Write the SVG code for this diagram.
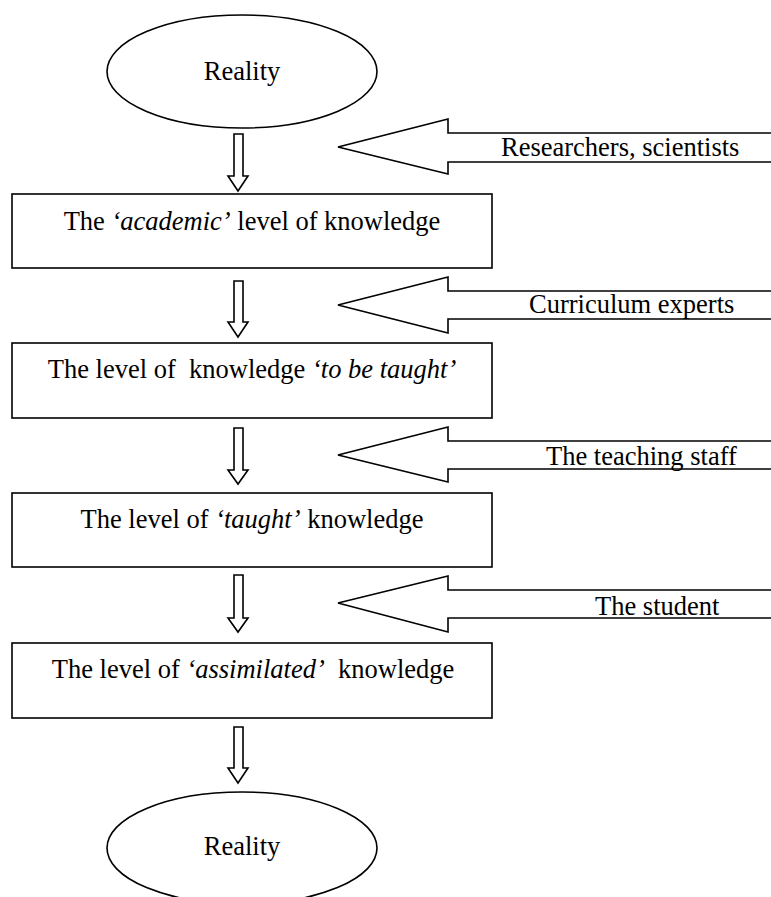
<svg xmlns="http://www.w3.org/2000/svg" width="771" height="897" viewBox="0 0 771 897">
<style>
.s{fill:#fff;stroke:#000;stroke-width:1.6;stroke-linejoin:miter}
text{font-family:"Liberation Serif","Times New Roman",serif;font-size:26.5px;fill:#000}
.c{text-anchor:middle}
.i{font-style:italic}
</style>
<rect width="771" height="897" fill="#fff"/>
<g id="connectors">
<polygon class="s" points="234,134 243,134 243,176 248,176 238,191 228,176 234,176"/>
<polygon class="s" points="234,281 243,281 243,322 248,322 238,337 228,322 234,322"/>
<polygon class="s" points="234,428 243,428 243,470 248,470 238,484 228,470 234,470"/>
<polygon class="s" points="234,575 243,575 243,618 248,618 238,632 228,618 234,618"/>
<polygon class="s" points="234,727 243,727 243,768 248,768 238,783 228,768 234,768"/>
</g>
<g id="agent-researchers">
<polygon class="s" points="338,147 448,119 448,133 776,133 776,162 448,162 448,174"/>
<text x="501" y="156">Researchers, scientists</text>
</g>
<g id="agent-curriculum">
<polygon class="s" points="338,305 448,277 448,291 776,291 776,319 448,319 448,333"/>
<text x="529" y="313">Curriculum experts</text>
</g>
<g id="agent-teaching">
<polygon class="s" points="338,455 448,427 448,441 776,441 776,469 448,469 448,482"/>
<text x="546" y="465">The teaching staff</text>
</g>
<g id="agent-student">
<polygon class="s" points="338,603 448,576 448,590 776,590 776,618 448,618 448,632"/>
<text x="595" y="615">The student</text>
</g>
<g id="reality-top">
<ellipse class="s" cx="242" cy="71.5" rx="135" ry="56.5"/>
<text class="c" x="242" y="80">Reality</text>
</g>
<g id="level-academic">
<rect class="s" x="12" y="194" width="480" height="74"/>
<text class="c" x="252" y="230" xml:space="preserve">The <tspan class="i">‘academic’</tspan> level of knowledge</text>
</g>
<g id="level-to-be-taught">
<rect class="s" x="12" y="343" width="480" height="75"/>
<text class="c" x="252" y="378" xml:space="preserve">The level of  knowledge <tspan class="i">‘to be taught’</tspan></text>
</g>
<g id="level-taught">
<rect class="s" x="12" y="493" width="480" height="74"/>
<text class="c" x="252" y="528" xml:space="preserve">The level of <tspan class="i">‘taught’</tspan> knowledge</text>
</g>
<g id="level-assimilated">
<rect class="s" x="12" y="643" width="480" height="75"/>
<text class="c" x="253" y="678" xml:space="preserve">The level of <tspan class="i">‘assimilated’</tspan>  knowledge</text>
</g>
<g id="reality-bottom">
<ellipse class="s" cx="242" cy="848" rx="135" ry="56"/>
<text class="c" x="242" y="855">Reality</text>
</g>
</svg>
